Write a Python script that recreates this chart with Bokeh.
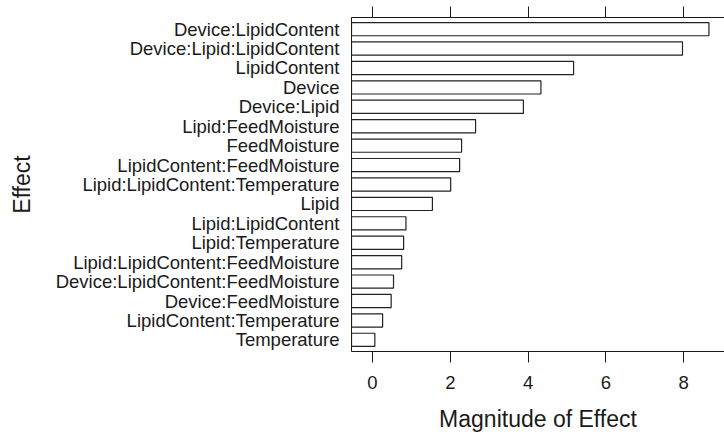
from bokeh.plotting import figure
from bokeh.models import Range1d, LinearAxis, FixedTicker
from bokeh.embed import file_html
from bokeh.resources import INLINE

# Effects ordered from largest to smallest magnitude
effects = [
    "Device:LipidContent",
    "Device:Lipid:LipidContent",
    "LipidContent",
    "Device",
    "Device:Lipid",
    "Lipid:FeedMoisture",
    "FeedMoisture",
    "LipidContent:FeedMoisture",
    "Lipid:LipidContent:Temperature",
    "Lipid",
    "Lipid:LipidContent",
    "Lipid:Temperature",
    "Lipid:LipidContent:FeedMoisture",
    "Device:LipidContent:FeedMoisture",
    "Device:FeedMoisture",
    "LipidContent:Temperature",
    "Temperature",
]
magnitude = [8.65, 7.97, 5.17, 4.33, 3.88, 2.65, 2.29, 2.24, 2.01, 1.54,
             0.86, 0.80, 0.75, 0.54, 0.48, 0.26, 0.06]
x_ticks = [0, 2, 4, 6, 8]

X_START, X_END = -0.54, 9.05
n = len(effects)
# bottom row is position 1, top row is position n
ypos = [n - i for i in range(n)]

FONT = "Liberation Sans"
INK = "#1a1a1a"

p = figure(width=724, height=434, output_backend="svg", toolbar_location=None,
           x_range=Range1d(X_START, X_END), y_range=Range1d(0.4, n + 0.6),
           min_border_left=351, min_border_right=0, min_border_top=17,
           min_border_bottom=82, x_axis_location="below")
p.outline_line_color = None
p.xgrid.visible = False
p.ygrid.visible = False
p.background_fill_color = "white"
p.border_fill_color = "white"

p.hbar(y=ypos, left=X_START, right=magnitude, height=0.68,
       fill_color="white", line_color="#222222", line_width=1.2)

# bottom axis
xa = p.xaxis[0]
xa.ticker = FixedTicker(ticks=x_ticks)
xa.minor_tick_line_color = None
xa.major_tick_out = 11
xa.major_tick_in = 0
xa.axis_line_color = INK
xa.major_tick_line_color = INK
xa.major_label_text_font = FONT
xa.major_label_text_font_size = "18.5px"
xa.major_label_text_color = INK
xa.major_label_standoff = 13
xa.axis_label = "Magnitude of Effect"
xa.axis_label_text_font = FONT
xa.axis_label_text_font_size = "23px"
xa.axis_label_text_font_style = "normal"
xa.axis_label_text_color = INK
xa.axis_label_standoff = 14

# top axis: tick marks only, no labels
top = LinearAxis(ticker=FixedTicker(ticks=x_ticks))
top.major_label_overrides = {t: "" for t in x_ticks}
top.minor_tick_line_color = None
top.major_tick_out = 11
top.major_tick_in = 0
top.axis_line_color = INK
top.major_tick_line_color = INK
top.major_label_text_font_size = "1px"
top.major_label_standoff = 0
p.add_layout(top, "above")

# left axis with effect names
ya = p.yaxis[0]
ya.ticker = FixedTicker(ticks=ypos)
ya.major_label_overrides = {y: name for y, name in zip(ypos, effects)}
ya.minor_tick_line_color = None
ya.major_tick_line_color = None
ya.major_tick_out = 0
ya.major_tick_in = 0
ya.axis_line_color = INK
ya.major_label_text_font = FONT
ya.major_label_text_font_size = "18.5px"
ya.major_label_text_color = INK
ya.major_label_standoff = 12
ya.axis_label = "Effect"
ya.axis_label_text_font = FONT
ya.axis_label_text_font_size = "23px"
ya.axis_label_text_font_style = "normal"
ya.axis_label_text_color = INK
ya.axis_label_standoff = 18

open("out.html", "w").write(file_html(p, INLINE))
